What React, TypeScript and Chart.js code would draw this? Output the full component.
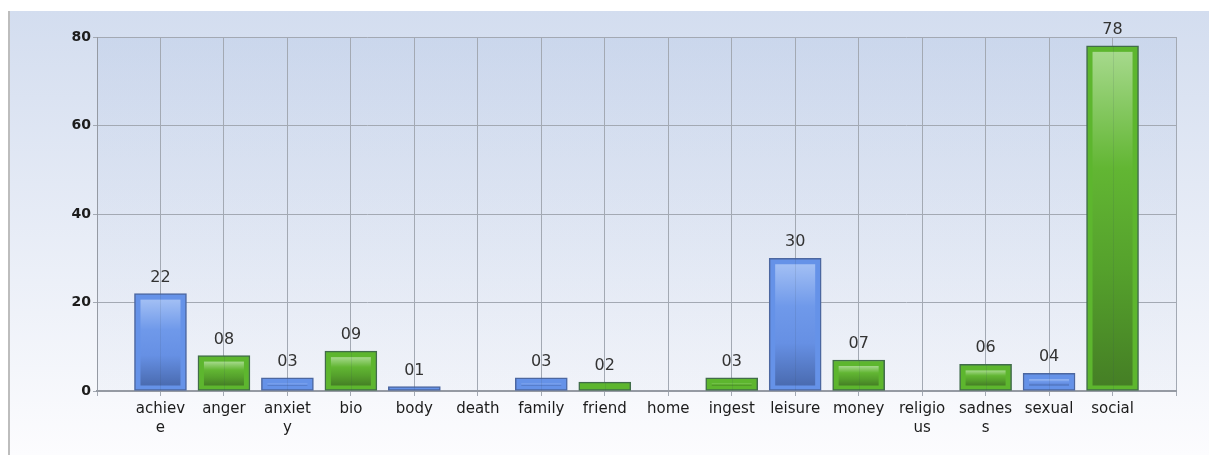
import React, { useEffect, useRef } from 'react';
import { Chart, registerables } from 'chart.js';

Chart.register(...registerables);

const categories = ['achieve', 'anger', 'anxiety', 'bio', 'body', 'death', 'family', 'friend', 'home', 'ingest', 'leisure', 'money', 'religious', 'sadness', 'sexual', 'social'];
const tickLabels: (string | string[])[] = [['achiev', 'e'], 'anger', ['anxiet', 'y'], 'bio', 'body', 'death', 'family', 'friend', 'home', 'ingest', 'leisure', 'money', ['religio', 'us'], ['sadnes', 's'], 'sexual', 'social'];
const values = [22, 8, 3, 9, 1, 0, 3, 2, 0, 3, 30, 7, 0, 6, 4, 78];
const yMin = 0;
const yMax = 80;
const yStep = 20;

const BLUE = { fill: '#6592e8', border: '#4c67a0', stops: ['#a2bff4', '#6f99ea', '#6690e4', '#4a6bb0'] };
const GREEN = { fill: '#5db62e', border: '#416c4a', stops: ['#a6d98c', '#62b633', '#55a12c', '#457f25'] };
const palette = (i: number) => (i % 2 === 0 ? BLUE : GREEN);

const FONT = '"DejaVu Sans", Verdana, sans-serif';

const backgroundPlugin = {
  id: 'bgPanel',
  beforeDraw(chart: any) {
    const { ctx, width, height, chartArea } = chart;
    ctx.save();
    ctx.fillStyle = '#ffffff';
    ctx.fillRect(0, 0, width, height);
    const g = ctx.createLinearGradient(0, 11, 0, height);
    g.addColorStop(0, '#d3ddef');
    g.addColorStop(1, '#fcfcfe');
    ctx.fillStyle = g;
    ctx.fillRect(8, 11, width - 8, height - 11);
    ctx.strokeStyle = '#bdbdbd';
    ctx.lineWidth = 2;
    ctx.beginPath();
    ctx.moveTo(9, 11);
    ctx.lineTo(9, height);
    ctx.stroke();
    const pg = ctx.createLinearGradient(0, chartArea.top, 0, chartArea.bottom);
    pg.addColorStop(0, 'rgba(170,190,225,0.25)');
    pg.addColorStop(1, 'rgba(200,210,230,0.12)');
    ctx.fillStyle = pg;
    ctx.fillRect(chartArea.left, chartArea.top, chartArea.right - chartArea.left, chartArea.bottom - chartArea.top);
    ctx.restore();
  },
};

const barDecorPlugin = {
  id: 'barDecor',
  afterDatasetsDraw(chart: any) {
    const { ctx } = chart;
    const meta = chart.getDatasetMeta(0);
    ctx.save();
    meta.data.forEach((bar: any, idx: number) => {
      const v = chart.data.datasets[0].data[idx];
      if (v === null || v === undefined) return;
      const ci = idx - 1;
      const { x, y, base, width } = bar.getProps(['x', 'y', 'base', 'width'], true);
      if (v > 0) {
        const p = palette(ci);
        const left = x - width / 2 + 6;
        const right = x + width / 2 - 6;
        const top = y + 6;
        const bottom = base - 5;
        if (bottom - top > 0) {
          const g = ctx.createLinearGradient(0, top, 0, bottom);
          g.addColorStop(0, p.stops[0]);
          g.addColorStop(0.35, p.stops[1]);
          g.addColorStop(0.65, p.stops[2]);
          g.addColorStop(1, p.stops[3]);
          ctx.fillStyle = g;
          ctx.fillRect(left, top, right - left, bottom - top);
        }
        ctx.strokeStyle = 'rgba(60,70,90,0.12)';
        ctx.lineWidth = 1;
        ctx.beginPath();
        ctx.moveTo(Math.round(x) + 0.5, y);
        ctx.lineTo(Math.round(x) + 0.5, base);
        ctx.stroke();
        ctx.fillStyle = '#333333';
        ctx.font = `16px ${FONT}`;
        ctx.textAlign = 'center';
        ctx.textBaseline = 'alphabetic';
        ctx.fillText(String(v).padStart(2, '0'), x, y - 12);
      }
    });
    ctx.restore();
  },
};

export default function App() {
  const canvasRef = useRef<HTMLCanvasElement | null>(null);

  useEffect(() => {
    if (!canvasRef.current) return;
    const labels = ['', ...categories, ''];
    const data = [null, ...values, null];
    const chart = new Chart(canvasRef.current, {
      type: 'bar',
      data: {
        labels,
        datasets: [
          {
            data,
            backgroundColor: data.map((_, i) => palette(i - 1).fill),
            borderColor: data.map((_, i) => palette(i - 1).border),
            borderWidth: 1.5,
            borderSkipped: false,
            barThickness: 52,
          } as any,
        ],
      },
      options: {
        responsive: false,
        animation: false,
        devicePixelRatio: 1,
        layout: { padding: { left: 0, right: 33, top: 37, bottom: 0 } },
        plugins: { legend: { display: false }, tooltip: { enabled: false } },
        scales: {
          x: {
            type: 'category',
            offset: false,
            grid: { offset: false, color: '#a3a9b3', tickLength: 5, lineWidth: 1 },
            border: { color: '#959aa3', width: 2 },
            ticks: {
              autoSkip: false,
              maxRotation: 0,
              minRotation: 0,
              padding: 3,
              color: '#1c1c1c',
              font: { family: FONT, size: 15, lineHeight: 1.3 },
              callback: (_v: any, i: number) => (i >= 1 && i <= tickLabels.length ? tickLabels[i - 1] : ''),
            },
            afterFit: (s: any) => {
              s.height = 64;
            },
          },
          y: {
            min: yMin,
            max: yMax,
            grid: { color: '#a3a9b3', tickLength: 4, lineWidth: 1 },
            border: { color: '#959aa3', width: 1 },
            ticks: {
              stepSize: yStep,
              padding: 2,
              color: '#1c1c1c',
              font: { family: FONT, size: 14, weight: 'bold' },
            },
            afterFit: (s: any) => {
              s.width = 97;
            },
          },
        },
      },
      plugins: [backgroundPlugin, barDecorPlugin],
    });
    return () => chart.destroy();
  }, []);

  return (
    <div style={{ position: 'fixed', left: 0, top: 0, width: 1209, height: 455 }}>
      <canvas ref={canvasRef} width={1209} height={455} style={{ display: 'block', width: 1209, height: 455 }} />
    </div>
  );
}
